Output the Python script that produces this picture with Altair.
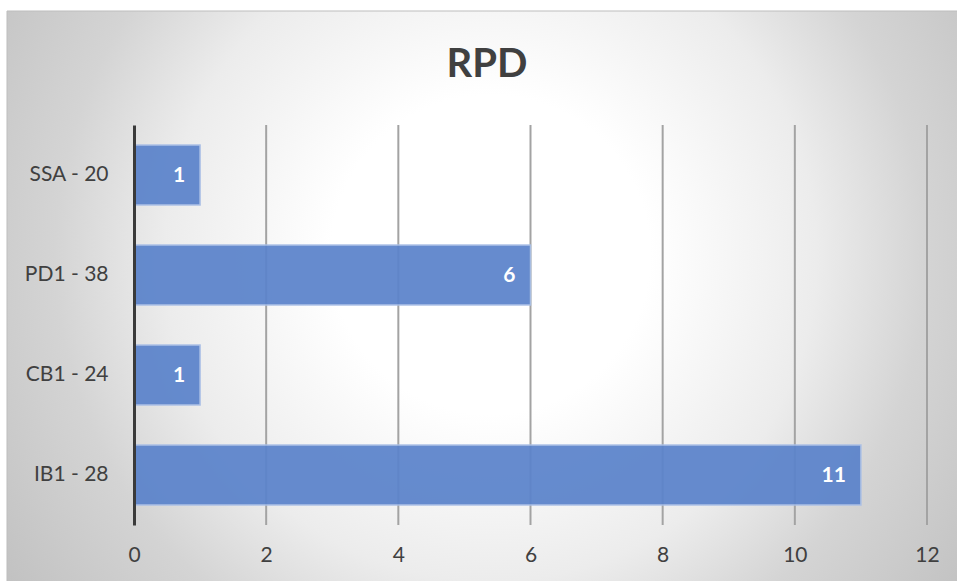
import altair as alt
import pandas as pd

categories = ["SSA - 20", "PD1 - 38", "CB1 - 24", "IB1 - 28"]
values = [1, 6, 1, 11]
grid_ticks = [2, 4, 6, 8, 10, 12]
title_text = "RPD"

df = pd.DataFrame({"cat": categories, "val": values})
grid_df = pd.DataFrame({"g": grid_ticks})

FONT = "Lato"
W, H = 793, 400

xscale = alt.Scale(domain=[0, 12], nice=False)
yscale = alt.Scale(paddingInner=0.4, paddingOuter=0.2)

bg = alt.Chart(pd.DataFrame({"d": [0]})).mark_rect(
    clip=False,
    fill={
        "gradient": "radial",
        "x1": 0.5, "y1": 0.45, "r1": 0,
        "x2": 0.5, "y2": 0.45, "r2": 0.75,
        "stops": [
            {"offset": 0, "color": "#ffffff"},
            {"offset": 0.22, "color": "#ffffff"},
            {"offset": 0.45, "color": "#ececec"},
            {"offset": 0.6, "color": "#d4d4d4"},
            {"offset": 0.8, "color": "#c2c2c2"},
            {"offset": 1, "color": "#bababa"},
        ],
    },
    stroke="#bdbdbd",
    strokeWidth=1,
).encode(
    x=alt.value(-127), x2=alt.value(840),
    y=alt.value(-114), y2=alt.value(470),
)

grid = alt.Chart(grid_df).mark_rule(color="#a3a3a3", strokeWidth=2).encode(
    x=alt.X("g:Q", scale=xscale),
    y=alt.value(0), y2=alt.value(H),
)

bars = alt.Chart(df).mark_bar(
    color="#5B83CB", opacity=0.93, stroke="#a9bfe6", strokeWidth=1.5
).encode(
    x=alt.X("val:Q", scale=xscale,
            axis=alt.Axis(values=[0, 2, 4, 6, 8, 10, 12], format="d", grid=False, domain=False,
                          ticks=False, labelFontSize=21, labelFont=FONT, labelFlush=False,
                          labelColor="#404040", labelPadding=19, title=None, zindex=1)),
    y=alt.Y("cat:N", sort=categories, scale=yscale,
            axis=alt.Axis(domain=True, domainColor="#3a3a3a", domainWidth=3,
                          ticks=False, labelFontSize=21, labelFont=FONT,
                          labelColor="#404040", labelPadding=26, title=None, zindex=1)),
)

labels = alt.Chart(df).mark_text(
    align="right", baseline="middle", dx=-15, dy=1, color="white",
    fontWeight="bold", fontSize=21, font=FONT,
).encode(
    x=alt.X("val:Q", scale=xscale),
    y=alt.Y("cat:N", sort=categories, scale=yscale),
    text="val:Q",
)

title = alt.Chart(pd.DataFrame({"t": [title_text]})).mark_text(
    align="center", baseline="alphabetic", font=FONT, fontSize=40,
    fontWeight="bold", color="#404040", clip=False,
).encode(
    x=alt.value(353), y=alt.value(-48), text="t:N",
)

chart = alt.layer(bg, grid, bars, labels, title).properties(
    width=W, height=H,
    autosize=alt.AutoSizeParams(type="none"),
    padding={"left": 134, "top": 125, "right": 30, "bottom": 56},
    background="#ffffff",
).configure_view(stroke=None)

chart.save("out.html", embed_options={"renderer": "svg", "actions": False})
